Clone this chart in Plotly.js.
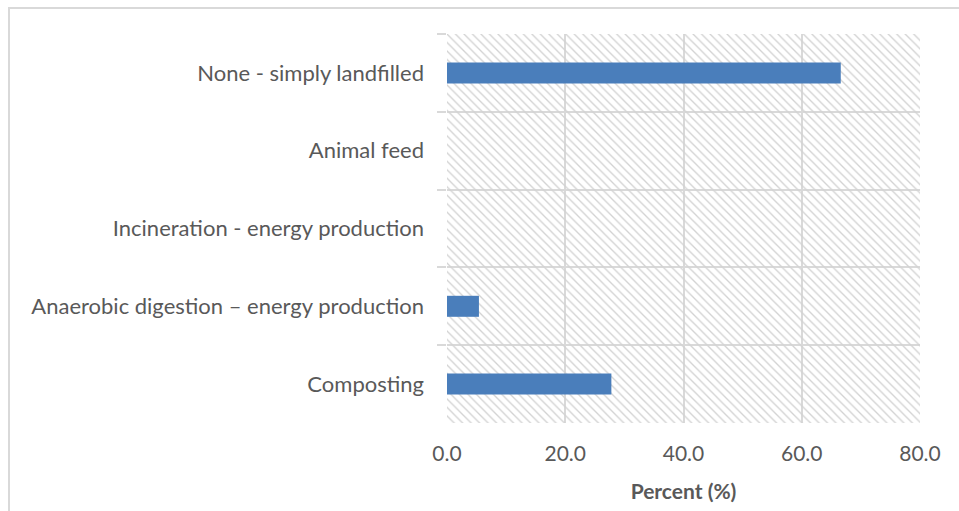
<!DOCTYPE html>
<html>
<head>
<meta charset="utf-8">
<script src="https://cdn.plot.ly/plotly-3.0.1.min.js"></script>
<style>html,body{margin:0;padding:0;background:#fff;}#chart{width:959px;height:511px;}</style>
</head>
<body>
<div id="chart"></div>
<script>
const categories = [
  "None - simply landfilled",
  "Animal feed",
  "Incineration - energy production",
  "Anaerobic digestion \u2013 energy production",
  "Composting"
];
const percentValues = [66.6, 0, 0, 5.4, 27.8];
const xTickValues = [0, 20, 40, 60, 80];
const xTickLabels = ["0.0", "20.0", "40.0", "60.0", "80.0"];
const axisMax = 80;

const fontFam = "Lato, 'Open Sans', sans-serif";
const textColor = "#595959";
const gridColor = "#d9d9d9";

const background = {
  type: "bar",
  orientation: "h",
  y: categories,
  x: categories.map(() => axisMax),
  width: 1,
  marker: {
    color: "rgba(0,0,0,0)",
    line: {width: 0},
    pattern: {shape: "\\", fgcolor: "#d2d2d2", bgcolor: "rgba(0,0,0,0)", size: 6, solidity: 0.22}
  },
  hoverinfo: "skip",
  showlegend: false
};

const bars = {
  type: "bar",
  orientation: "h",
  y: categories,
  x: percentValues,
  width: 0.27,
  marker: {color: "#4a7ebb", line: {color: "#4a7ebb", width: 0}},
  showlegend: false
};

const layout = {
  width: 959,
  height: 511,
  margin: {l: 447, r: 39, t: 34, b: 88},
  paper_bgcolor: "#ffffff",
  plot_bgcolor: "#ffffff",
  barmode: "overlay",
  font: {family: fontFam, color: textColor, size: 22},
  xaxis: {
    range: [0, axisMax],
    tickvals: xTickValues,
    ticktext: xTickLabels,
    showgrid: true,
    gridcolor: gridColor,
    gridwidth: 2,
    zeroline: false,
    showline: false,
    ticks: "",
    tickfont: {size: 21, color: textColor},
    ticklabelstandoff: 16,
    title: {text: "<b>Percent (%)</b>", font: {size: 21, color: textColor}, standoff: 20}
  },
  yaxis: {
    type: "category",
    autorange: "reversed",
    tickson: "boundaries",
    ticks: "outside",
    ticklen: 9,
    tickwidth: 2,
    tickcolor: gridColor,
    showgrid: true,
    gridcolor: gridColor,
    gridwidth: 2,
    showline: false,
    zeroline: false,
    tickfont: {size: 22, color: textColor},
    ticklabelstandoff: 22
  },
  shapes: [{
    type: "rect",
    xref: "paper", yref: "paper",
    x0: (9 - 447) / 473, x1: 1 + (970 - 920) / 473,
    y0: -(530 - 423) / 389, y1: 1 + (34 - 8) / 389,
    line: {color: gridColor, width: 2},
    fillcolor: "rgba(0,0,0,0)",
    layer: "below"
  }]
};

Plotly.newPlot("chart", [background, bars], layout, {displayModeBar: false, staticPlot: true});
</script>
</body>
</html>
